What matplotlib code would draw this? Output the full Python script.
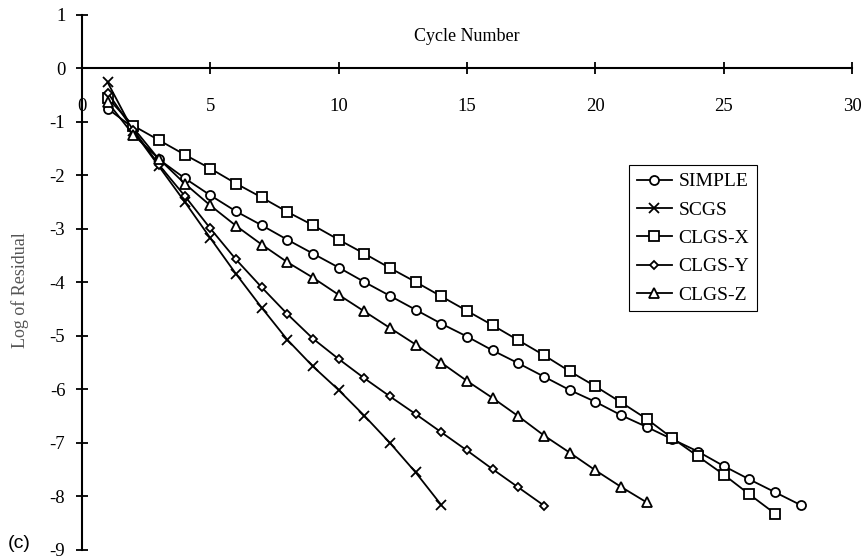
import matplotlib
matplotlib.use('Agg')
import matplotlib.pyplot as plt

plt.rcParams['font.family'] = 'Liberation Serif'
plt.rcParams['font.size'] = 13.5
plt.rcParams['axes.unicode_minus'] = False

# Log10 of the residual after each cycle, per solver
simple_cycles = list(range(1, 29))
simple_resid = [-0.75, -1.11, -1.70, -2.05, -2.37, -2.67, -2.93, -3.20, -3.46, -3.72,
                -3.99, -4.25, -4.51, -4.77, -5.01, -5.27, -5.51, -5.76, -6.01, -6.23,
                -6.48, -6.70, -6.93, -7.16, -7.43, -7.68, -7.92, -8.16]

scgs_cycles = list(range(1, 15))
scgs_resid = [-0.26, -1.17, -1.83, -2.49, -3.17, -3.84, -4.47, -5.07, -5.57, -6.01,
              -6.49, -7.00, -7.55, -8.16]

clgsx_cycles = list(range(1, 28))
clgsx_resid = [-0.55, -1.07, -1.34, -1.61, -1.87, -2.15, -2.41, -2.68, -2.93, -3.20,
               -3.46, -3.73, -3.99, -4.26, -4.53, -4.80, -5.08, -5.36, -5.66, -5.94,
               -6.24, -6.55, -6.91, -7.25, -7.59, -7.96, -8.32]

clgsy_cycles = list(range(1, 19))
clgsy_resid = [-0.45, -1.15, -1.80, -2.38, -2.99, -3.57, -4.09, -4.59, -5.05, -5.43,
               -5.79, -6.13, -6.46, -6.80, -7.14, -7.49, -7.83, -8.17]

clgsz_cycles = list(range(1, 23))
clgsz_resid = [-0.63, -1.24, -1.69, -2.15, -2.56, -2.94, -3.29, -3.62, -3.91, -4.23,
               -4.54, -4.85, -5.16, -5.50, -5.84, -6.16, -6.50, -6.86, -7.18, -7.51,
               -7.82, -8.11]

x_ticks = [0, 5, 10, 15, 20, 25, 30]
y_ticks = [1, 0, -1, -2, -3, -4, -5, -6, -7, -8, -9]

fig = plt.figure(figsize=(8.63, 5.60), dpi=100)
ax = fig.add_axes([0.0950, 0.01786, 0.8923, 0.95536])

line_kw = dict(color='black', linewidth=1.3, markerfacecolor='white',
               markeredgecolor='black', markeredgewidth=1.3)
ax.plot(simple_cycles, simple_resid, marker='o', markersize=6.5, label='SIMPLE', **line_kw)
ax.plot(scgs_cycles, scgs_resid, marker='x', markersize=7, label='SCGS', **line_kw)
ax.plot(clgsx_cycles, clgsx_resid, marker='s', markersize=6.5, label='CLGS-X', **line_kw)
ax.plot(clgsy_cycles, clgsy_resid, marker='D', markersize=4.5, label='CLGS-Y', **line_kw)
ax.plot(clgsz_cycles, clgsz_resid, marker='^', markersize=6.5, label='CLGS-Z', **line_kw)

ax.set_xlim(0, 30)
ax.set_ylim(-9, 1)
ax.spines['left'].set_position(('data', 0))
ax.spines['bottom'].set_position(('data', 0))
ax.spines['top'].set_visible(False)
ax.spines['right'].set_visible(False)
for s in ('left', 'bottom'):
    ax.spines[s].set_linewidth(1.5)
ax.set_xticks(x_ticks)
ax.set_yticks(y_ticks)
ax.tick_params(axis='both', direction='inout', length=8, width=1.3)
ax.tick_params(axis='x', pad=17)
ax.tick_params(axis='y', pad=8)
ax.patch.set_visible(False)

ax.text(15, 0.6, 'Cycle Number', ha='center', va='center', fontsize=13)
ax.set_ylabel('Log of Residual', fontsize=13, color='#555555')
ax.yaxis.set_label_coords(-0.069, 0.486)

fig.text(8 / 863, 1 - 543 / 560, '(c)', family='Liberation Sans', fontsize=14,
         ha='left', va='center')

leg = ax.legend(loc='upper left', bbox_to_anchor=(629 / 863, 1 - 165 / 560),
                bbox_transform=fig.transFigure, borderaxespad=0, fontsize=14,
                fancybox=False, framealpha=1, edgecolor='black',
                handlelength=1.8, handletextpad=0.35, labelspacing=0.55,
                borderpad=0.4)
leg.get_frame().set_linewidth(0.8)

fig.savefig('out.png', dpi=100)
